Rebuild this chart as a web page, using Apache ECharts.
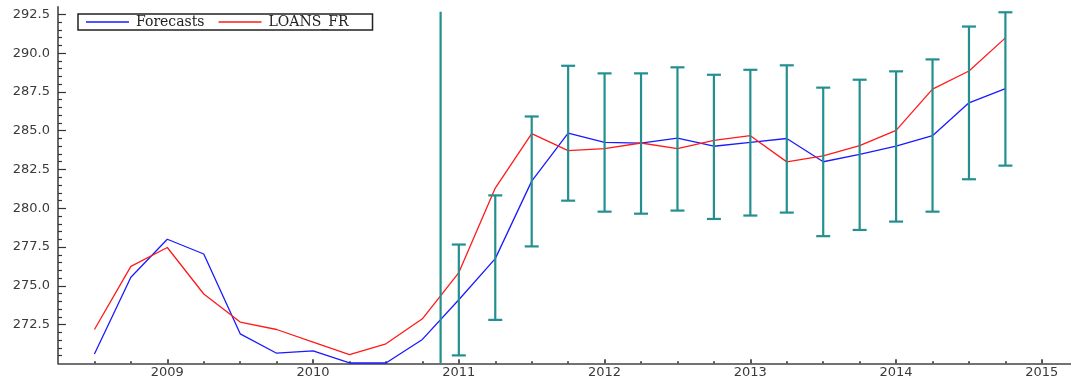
<!DOCTYPE html>
<html>
<head>
<meta charset="utf-8">
<script src="https://cdn.jsdelivr.net/npm/echarts@6/dist/echarts.min.js"></script>
<style>
  html, body { margin: 0; padding: 0; background: #fff; }
  #chart { width: 1071px; height: 383px; }
</style>
</head>
<body>
<div id="chart"></div>
<script>
// Quarterly periods (decimal years) for both series
const periods = [
  2008.5, 2008.75, 2009.0, 2009.25, 2009.5, 2009.75,
  2010.0, 2010.25, 2010.5, 2010.75, 2011.0, 2011.25,
  2011.5, 2011.75, 2012.0, 2012.25, 2012.5, 2012.75,
  2013.0, 2013.25, 2013.5, 2013.75, 2014.0, 2014.25,
  2014.5, 2014.75
];

const forecasts = [
  270.6, 275.55, 278.0, 277.05, 271.9, 270.65,
  270.8, 270.02, 270.02, 271.54, 274.1, 276.75,
  281.75, 284.85, 284.25, 284.2, 284.53, 284.0,
  284.25, 284.5, 283.0, 283.48, 284.0, 284.68,
  286.8, 287.72
];

const loansFr = [
  272.18, 276.25, 277.47, 274.47, 272.66, 272.18,
  271.37, 270.56, 271.26, 272.87, 275.85, 281.3,
  284.81, 283.72, 283.84, 284.21, 283.84, 284.38,
  284.68, 282.99, 283.38, 284.04, 285.02, 287.68,
  288.85, 290.99
];

// Forecast interval bounds, 2011Q1 onwards
const bandPeriods = [
  2011.0, 2011.25, 2011.5, 2011.75, 2012.0, 2012.25, 2012.5, 2012.75,
  2013.0, 2013.25, 2013.5, 2013.75, 2014.0, 2014.25, 2014.5, 2014.75
];
const bandLower = [
  270.51, 272.8, 277.54, 280.49, 279.78, 279.65, 279.85, 279.31,
  279.53, 279.72, 278.2, 278.6, 279.14, 279.78, 281.87, 282.75
];
const bandUpper = [
  277.66, 280.83, 285.92, 289.19, 288.7, 288.7, 289.09, 288.61,
  288.93, 289.22, 287.78, 288.29, 288.83, 289.6, 291.72, 292.64
];

// Vertical marker at the start of the forecast sample: [x, from, to]
const sampleBreak = [2010.875, 270.0, 292.68];

// Axis ticks
const yearTicks = [2009, 2010, 2011, 2012, 2013, 2014, 2015];
const quarterTicks = [
  2008.5, 2008.75, 2009.25, 2009.5, 2009.75, 2010.25, 2010.5, 2010.75,
  2011.25, 2011.5, 2011.75, 2012.25, 2012.5, 2012.75, 2013.25, 2013.5,
  2013.75, 2014.25, 2014.5, 2014.75
];
const yTickLabels = [272.5, 275.0, 277.5, 280.0, 282.5, 285.0, 287.5, 290.0, 292.5];
const yMinorTicks = [
  270.5, 271, 271.5, 272, 273, 273.5, 274, 274.5, 275.5, 276, 276.5, 277,
  278, 278.5, 279, 279.5, 280.5, 281, 281.5, 282, 283, 283.5, 284, 284.5,
  285.5, 286, 286.5, 287, 288, 288.5, 289, 289.5, 290.5, 291, 291.5, 292
];

const teal = '#248f8f';
const blue = '#1a1aff';
const red = '#ff1a1a';
const axisColor = '#444';
const labelFont = { fontFamily: 'DejaVu Sans', fontSize: 13, color: '#3a3a3a' };

const zip = (xs, ys) => xs.map((x, i) => [x, ys[i]]);

const chart = echarts.init(document.getElementById('chart'), null, { renderer: 'canvas' });

const xRange = { min: 2008.25, max: 2015.2 };
const yRange = { min: 270, max: 293 };

chart.setOption({
  animation: false,
  backgroundColor: '#fff',
  grid: { left: 58, right: 0, top: 6.7, bottom: 19.7, containLabel: false },
  legend: {
    left: 78,
    top: 14,
    orient: 'horizontal',
    padding: [1, 24, 1, 8],
    icon: 'rect',
    itemWidth: 43,
    itemHeight: 1.4,
    itemGap: 14,
    borderColor: '#222',
    borderWidth: 1.5,
    backgroundColor: '#fff',
    textStyle: { fontFamily: 'DejaVu Serif', fontSize: 14, color: '#222', padding: [0, 0, 0, 2] },
    data: ['Forecasts', 'LOANS_FR']
  },
  xAxis: [
    {
      type: 'value',
      ...xRange,
      position: 'bottom',
      axisLine: { show: true, onZero: false, lineStyle: { color: axisColor, width: 1.6 } },
      axisTick: { show: true, inside: true, length: 4, customValues: yearTicks, lineStyle: { color: '#222', width: 1.5 } },
      axisLabel: { show: true, margin: 3, customValues: yearTicks, formatter: v => String(Math.round(v)), ...labelFont },
      splitLine: { show: false }
    },
    {
      type: 'value',
      ...xRange,
      position: 'bottom',
      axisLine: { show: false, onZero: false },
      axisTick: { show: true, inside: true, length: 2, customValues: quarterTicks, lineStyle: { color: '#222', width: 1.5 } },
      axisLabel: { show: false },
      splitLine: { show: false }
    }
  ],
  yAxis: [
    {
      type: 'value',
      ...yRange,
      position: 'left',
      axisLine: { show: true, onZero: false, lineStyle: { color: axisColor, width: 1.6 } },
      axisTick: { show: true, inside: true, length: 8, customValues: yTickLabels, lineStyle: { color: '#333', width: 1.2 } },
      axisLabel: { show: true, margin: 8, customValues: yTickLabels, formatter: v => v.toFixed(1), ...labelFont },
      splitLine: { show: false }
    },
    {
      type: 'value',
      ...yRange,
      position: 'left',
      axisLine: { show: false, onZero: false },
      axisTick: { show: true, inside: true, length: 4, customValues: yMinorTicks, lineStyle: { color: '#333', width: 1.2 } },
      axisLabel: { show: false },
      splitLine: { show: false }
    }
  ],
  series: [
    {
      name: 'Forecasts',
      type: 'line',
      xAxisIndex: 0,
      yAxisIndex: 0,
      data: zip(periods, forecasts),
      symbol: 'none',
      lineStyle: { color: blue, width: 1.3 },
      itemStyle: { color: blue },
      z: 3
    },
    {
      name: 'LOANS_FR',
      type: 'line',
      xAxisIndex: 0,
      yAxisIndex: 0,
      data: zip(periods, loansFr),
      symbol: 'none',
      lineStyle: { color: red, width: 1.3 },
      itemStyle: { color: red },
      z: 3
    },
    {
      name: 'interval',
      type: 'custom',
      xAxisIndex: 0,
      yAxisIndex: 0,
      data: bandPeriods.map((x, i) => [x, bandLower[i], bandUpper[i]]),
      encode: { x: 0, y: [1, 2] },
      renderItem: (params, api) => {
        const lo = api.coord([api.value(0), api.value(1)]);
        const hi = api.coord([api.value(0), api.value(2)]);
        const half = 7;
        const style = { stroke: teal, lineWidth: 2.2 };
        return {
          type: 'group',
          children: [
            { type: 'line', shape: { x1: lo[0], y1: lo[1], x2: hi[0], y2: hi[1] }, style },
            { type: 'line', shape: { x1: lo[0] - half, y1: lo[1], x2: lo[0] + half, y2: lo[1] }, style },
            { type: 'line', shape: { x1: hi[0] - half, y1: hi[1], x2: hi[0] + half, y2: hi[1] }, style }
          ]
        };
      },
      z: 4,
      silent: true
    },
    {
      name: 'break',
      type: 'custom',
      xAxisIndex: 0,
      yAxisIndex: 0,
      data: [sampleBreak],
      encode: { x: 0, y: [1, 2] },
      renderItem: (params, api) => {
        const a = api.coord([api.value(0), api.value(1)]);
        const b = api.coord([api.value(0), api.value(2)]);
        return {
          type: 'line',
          shape: { x1: a[0], y1: a[1], x2: b[0], y2: b[1] },
          style: { stroke: teal, lineWidth: 2.2 }
        };
      },
      z: 4,
      silent: true
    }
  ]
});
</script>
</body>
</html>
